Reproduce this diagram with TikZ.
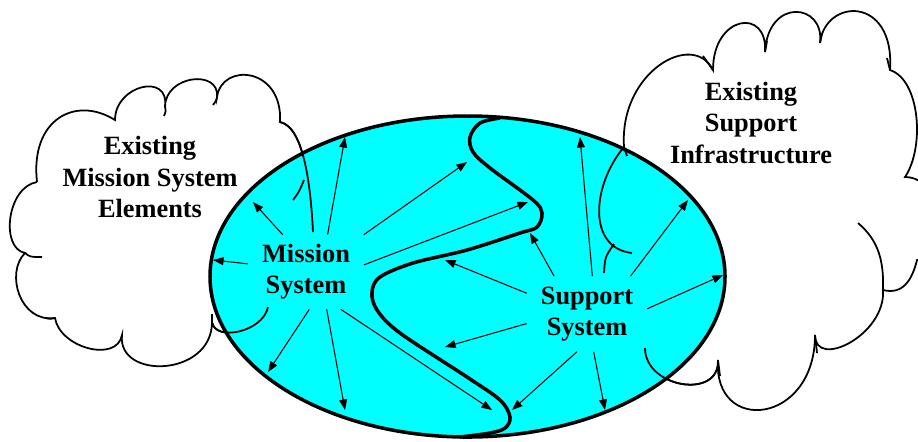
\documentclass[tikz,border=0pt]{standalone}
\usepackage{fontspec}
\setmainfont{Liberation Serif}
\usetikzlibrary{arrows.meta}
\definecolor{aqua}{RGB}{0,255,255}

\begin{document}
\begin{tikzpicture}[x=0.02cm, y=-0.02cm,
    puff/.style={line width=1pt},
    arr/.style={line width=0.6pt, -{Triangle[length=6pt,width=4.5pt]}},
    lbl/.style={font=\fontsize{15}{17.7}\selectfont\bfseries, align=center, inner sep=0pt}]
        \useasboundingbox (0,0) rectangle (918,441);
        \clip (0,0) rectangle (918,441);
        % left cloud
        \draw[puff] (37,182) .. controls +(-7,-62) and +(-40,-25) .. (115,120)
            .. controls +(0,-35) and +(5,-35) .. (165,107)
            .. controls +(0,-32) and +(3,-28) .. (217,97)
            .. controls +(5,-35) and +(3,-55) .. (280,122)
            .. controls +(25,5) and +(-2,-40) .. (313,232)
            .. controls +(10,40) and +(30,10) .. (268,307)
            .. controls +(-5,25) and +(3,20) .. (212,322)
            .. controls +(0,55) and +(-5,45) .. (122,335)
            .. controls +(-5,28) and +(5,30) .. (55,318)
            .. controls +(-35,5) and +(-20,20) .. (25,253)
            .. controls +(-25,-5) and +(-30,5) .. (37,182);
        \draw[puff] (25,253) .. controls (30,257) .. (42,257);
        \draw[puff] (165,107) .. controls (166,111) .. (164,116);
        \draw[puff] (217,97) .. controls (216,101) .. (213,105);
        \draw[puff] (280,122) -- (280,112);
        \draw[puff] (55,318) .. controls (50,319) .. (46,318);
        % right cloud
        \draw[puff] (624,147) .. controls +(-5,-75) and +(-20,-40) .. (713,70)
            .. controls +(0,-55) and +(3,-45) .. (765,52)
            .. controls +(3,-55) and +(5,-40) .. (820,43)
            .. controls +(5,-45) and +(5,-75) .. (890,70)
            .. controls +(30,10) and +(20,-30) .. (905,177)
            .. controls +(40,0) and +(40,0) .. (917,260)
            .. controls +(-5,20) and +(20,5) .. (883,290)
            .. controls +(3,45) and +(0,35) .. (815,335)
            .. controls +(0,90) and +(-5,75) .. (718,360)
            .. controls +(2,40) and +(0,40) .. (645,348)
            .. controls +(-20,-10) and +(-20,25) .. (632,253)
            .. controls +(-45,-5) and +(-32,38) .. (624,147);
        \draw[puff] (713,70) .. controls (708,63) .. (703,56);
        \draw[puff] (765,52) -- (767,41);
        \draw[puff] (820,43) -- (822,33);
        \draw[puff] (890,70) -- (887,58);
        \draw[puff] (815,335) -- (817,353);
        \draw[puff] (718,360) -- (720,376);
        \draw[puff] (858,223) .. controls (878,240) and (884,260) .. (883,290);
        % the two systems
        \draw[line width=2pt, fill=aqua] (467.5,276.5) ellipse [x radius=257.5, y radius=160.5];
        \draw[puff] (280,122) .. controls +(25,5) and +(-2,-40) .. (313,232);
        \draw[puff] (293,200) .. controls (299,192) .. (304,180);
        \draw[puff] (268,307) .. controls +(-5,25) and +(3,20) .. (212,322) -- (212,314);
        \draw[puff] (632,253) .. controls +(-45,-5) and +(-32,38) .. (624,147) -- (627,156);
        \draw[puff] (604,273) .. controls (605,257) .. (614,244);
        \draw[puff] (718,360) .. controls +(2,40) and +(0,40) .. (645,348);
        \draw[line width=2pt] plot[smooth, tension=0.55] coordinates {(500,118) (480,123) (470,137)
            (473,152) (490,168) (533,200) (542,213) (537,227) (520,233) (467,250) (413,263)
            (380,277) (372,292) (377,310) (400,333) (467,377) (500,400) (510,417) (505,428)
            (490,433) (460,437)};
        % labels
        \node[lbl] (exm) at (150,177) {Existing\\Mission System\\Elements};
        \node[lbl] (exs) at (751,123) {Existing\\Support\\Infrastructure};
        \node[lbl, minimum width=2.3cm, minimum height=1.48cm] (mis) at (306,272) {Mission\\System};
        \node[lbl, minimum width=2.4cm, minimum height=1.5cm] (sup) at (587,314) {Support\\System};
        % arrow tips
        \coordinate (mt1) at (253,202);
        \coordinate (mt2) at (213,260);
        \coordinate (mt3) at (345,137);
        \coordinate (mt4) at (467,162);
        \coordinate (mt5) at (528,202);
        \coordinate (mt6) at (268,372);
        \coordinate (mt7) at (345,410);
        \coordinate (mt8) at (492,410);
        \coordinate (st1) at (530,233);
        \coordinate (st2) at (445,260);
        \coordinate (st3) at (445,347);
        \coordinate (st4) at (512,410);
        \coordinate (st5) at (580,137);
        \coordinate (st6) at (688,200);
        \coordinate (st7) at (723,275);
        \coordinate (st8) at (605,410);
        \draw[arr] (mis.122.8) -- (mt1);
        \draw[arr] (mis.172.1) -- (mt2);
        \draw[arr] (mis.60.3) -- (mt3);
        \draw[arr] (mis.north east) -- (mt4);
        \draw[arr] (mis.7.9) -- (mt5);
        \draw[arr] (mis.275.4) -- (mt6);
        \draw[arr] (mis.299) -- (mt7);
        \draw[arr] (mis.313.8) -- (mt8);
        \draw[arr] (sup.131.3) -- (st1);
        \draw[arr] (sup.161.1) -- (st2);
        \draw[arr] (sup.189.9) -- (st3);
        \draw[arr] (sup.255.1) -- (st4);
        \draw[arr] (sup.82.4) -- (st5);
        \draw[arr] (sup.41.8) -- (st6);
        \draw[arr] (sup.5.2) -- (st7);
        \draw[arr] (sup.280.6) -- (st8);
\end{tikzpicture}
\end{document}
